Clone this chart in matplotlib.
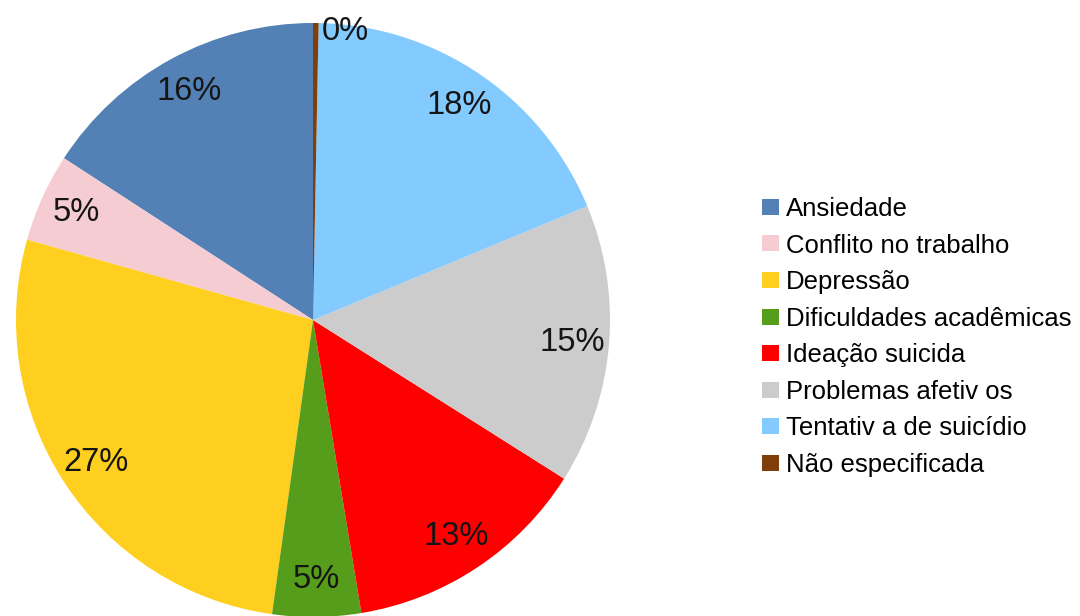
import matplotlib
matplotlib.use('Agg')
import matplotlib.pyplot as plt
from matplotlib.patches import Patch

plt.rcParams['font.family'] = ['Liberation Sans', 'DejaVu Sans']

# Motivos de procura (percentual por categoria)
categorias = ['Ansiedade', 'Conflito no trabalho', 'Depressão', 'Dificuldades acadêmicas',
              'Ideação suicida', 'Problemas afetivos', 'Tentativa de suicídio', 'Não especificada']
percentuais = [15.8, 4.8, 27.1, 4.8, 13.4, 15.2, 18.4, 0.3]
legenda_rotulos = ['Ansiedade', 'Conflito no trabalho', 'Depressão', 'Dificuldades acadêmicas',
                   'Ideação suicida', 'Problemas afetiv os', 'Tentativ a de suicídio', 'Não especificada']
cores = ['#5381b5', '#f6ccd3', '#ffcf1f', '#579d1c', '#ff0000', '#cccccc', '#83caff', '#7e3f0a']

W, H = 1080, 616
fig = plt.figure(figsize=(W / 100, H / 100), dpi=100)
cx, cy, r = 313, 320, 297
ax = fig.add_axes([(cx - r) / W, (H - cy - r) / H, 2 * r / W, 2 * r / H])

wedges, texts, autotexts = ax.pie(
    percentuais, colors=cores, startangle=90, counterclock=True,
    autopct='%.0f%%', pctdistance=0.875, radius=1.0,
    wedgeprops=dict(linewidth=0), textprops=dict(fontsize=23.5, color='#151515'))
ax.set_xlim(-1, 1)
ax.set_ylim(-1, 1)
ax.set_aspect('equal')
for w in wedges:
    w.set_clip_on(False)

# rótulo da fatia mínima fica na borda superior
autotexts[-1].set_position((0.11, 0.97))
autotexts[-1].set_ha('center')

handles = [Patch(facecolor=c, edgecolor='none') for c in cores]
fig.legend(handles, legenda_rotulos, loc='center left', bbox_to_anchor=(762 / W, 1 - 337 / H),
           frameon=False, fontsize=18.5, handlelength=0.66, handleheight=0.58,
           handletextpad=0.28, labelspacing=0.49, borderaxespad=0, borderpad=0)

fig.savefig('out.png', dpi=100)
